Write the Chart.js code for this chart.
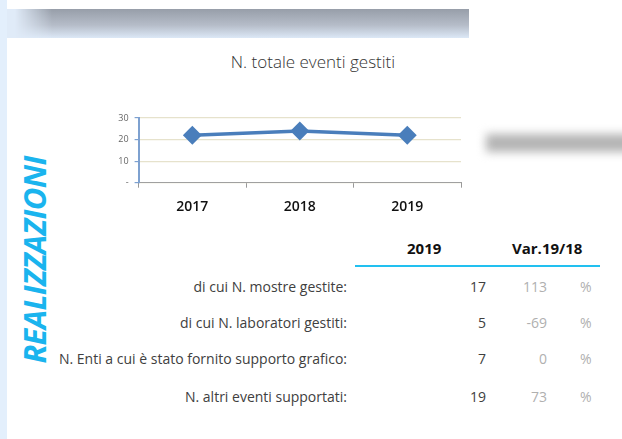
<!DOCTYPE html>
<html>
<head>
<meta charset="utf-8">
<script src="https://cdn.jsdelivr.net/npm/chart.js@4.4.1/dist/chart.umd.min.js"></script>
<style>
  body { margin: 0; width: 622px; height: 439px; background: #fff; position: relative; overflow: hidden; font-family: "Open Sans", "Noto Sans", sans-serif; }
  .strip { position: absolute; left: 0; top: 0; width: 7px; height: 439px; background: #e3effc; }
  .band-bg { position: absolute; left: 7px; top: 9px; width: 462px; height: 29px; background: #e0ebf8; }
  .band { position: absolute; left: 7px; top: 9px; width: 462px; height: 29px;
    background: linear-gradient(#979ea9, #b5bcc8 55%, #dce8f6);
    -webkit-mask-image: linear-gradient(to right, transparent 8px, #000 45px);
    mask-image: linear-gradient(to right, transparent 8px, #000 45px); }
  .shadow-r { position: absolute; left: 486px; top: 134px; width: 160px; height: 18px; background: #b4b4b4; filter: blur(5px); }
  .title { position: absolute; left: 100px; width: 426px; top: 50px; text-align: center; font-size: 17px; font-weight: 300; color: #333; }
  #wrap { position: absolute; left: 100px; top: 40px; width: 380px; height: 190px; }
  .side { position: absolute; left: 34px; top: 260px; transform: translate(-50%, -50%) rotate(-90deg); color: #1ab4ee; font-weight: 700; font-style: italic; font-size: 31px; letter-spacing: -0.7px; white-space: nowrap; }
  .hdr { position: absolute; top: 238px; font-size: 15px; font-weight: 700; color: #111; }
  .rule { position: absolute; left: 355px; top: 265px; width: 245px; height: 2px; background: #22c0f0; }
  .lbl, .val, .var, .pct { position: absolute; font-size: 14px; line-height: 20px; }
  .lbl { right: 275px; color: #404040; white-space: nowrap; }
  .val { right: 136px; color: #404040; }
  .var { right: 75px; color: #b0b0b0; }
  .pct { left: 580px; color: #b0b0b0; }
</style>
</head>
<body>
<div class="strip"></div>
<div class="band-bg"></div>
<div class="band"></div>
<div class="shadow-r"></div>
<div class="title">N. totale eventi gestiti</div>
<div id="wrap"><canvas id="chart"></canvas></div>
<div class="side">REALIZZAZIONI</div>
<div id="table"></div>
<script>
const years = ["2017", "2018", "2019"];
const totalEvents = [22, 24, 22];
const yTicks = [0, 10, 20, 30];

const rowLabels = [
  "di cui N. mostre gestite:",
  "di cui N. laboratori gestiti:",
  "N. Enti a cui è stato fornito supporto grafico:",
  "N. altri eventi supportati:"
];
const values2019 = [17, 5, 7, 19];
const var1918 = [113, -69, 0, 73];
const headers = ["2019", "Var.19/18"];

// table under the chart
const rowY = [277, 313, 349, 387];
let html = '<div class="hdr" style="left:407px">' + headers[0] + '</div>' +
  '<div class="hdr" style="left:512px">' + headers[1] + '</div><div class="rule"></div>';
rowLabels.forEach((l, i) => {
  html += '<div class="lbl" style="top:' + rowY[i] + 'px">' + l + '</div>' +
    '<div class="val" style="top:' + rowY[i] + 'px">' + values2019[i] + '</div>' +
    '<div class="var" style="top:' + rowY[i] + 'px">' + var1918[i] + '</div>' +
    '<div class="pct" style="top:' + rowY[i] + 'px">%</div>';
});
document.getElementById("table").innerHTML = html;

new Chart(document.getElementById("chart"), {
  type: "line",
  data: {
    labels: years,
    datasets: [{
      data: totalEvents,
      borderColor: "#4a7ebb",
      backgroundColor: "#4a7ebb",
      borderWidth: 3.5,
      pointStyle: "rectRot",
      pointRadius: 7,
      pointHoverRadius: 7,
      tension: 0
    }]
  },
  options: {
    responsive: true,
    maintainAspectRatio: false,
    animation: false,
    layout: { padding: { top: 78, right: 19, left: 0, bottom: 0 } },
    plugins: { legend: { display: false }, tooltip: { enabled: false } },
    scales: {
      x: {
        offset: true,
        grid: { drawOnChartArea: false, drawTicks: true, tickLength: 5, color: "#999", offset: true },
        border: { color: "#a0a0a0", width: 1 },
        ticks: { color: "#111", padding: 11, font: { family: "Open Sans", size: 14, weight: "600" } },
        afterFit: s => { s.height = 47.3; }
      },
      y: {
        min: 0,
        max: 30,
        afterBuildTicks: s => { s.ticks = yTicks.map(v => ({ value: v })); },
        grid: { color: "#e6e2cc", lineWidth: 1.2, tickLength: 4, tickColor: "#7ea1d0" },
        border: { color: "#7ea1d0", width: 2 },
        ticks: { color: "#666", padding: 6, font: { family: "Open Sans", size: 9 },
          callback: v => v === 0 ? "-" : v },
        afterFit: s => { s.width = 38.6; }
      }
    }
  }
});
</script>
</body>
</html>
